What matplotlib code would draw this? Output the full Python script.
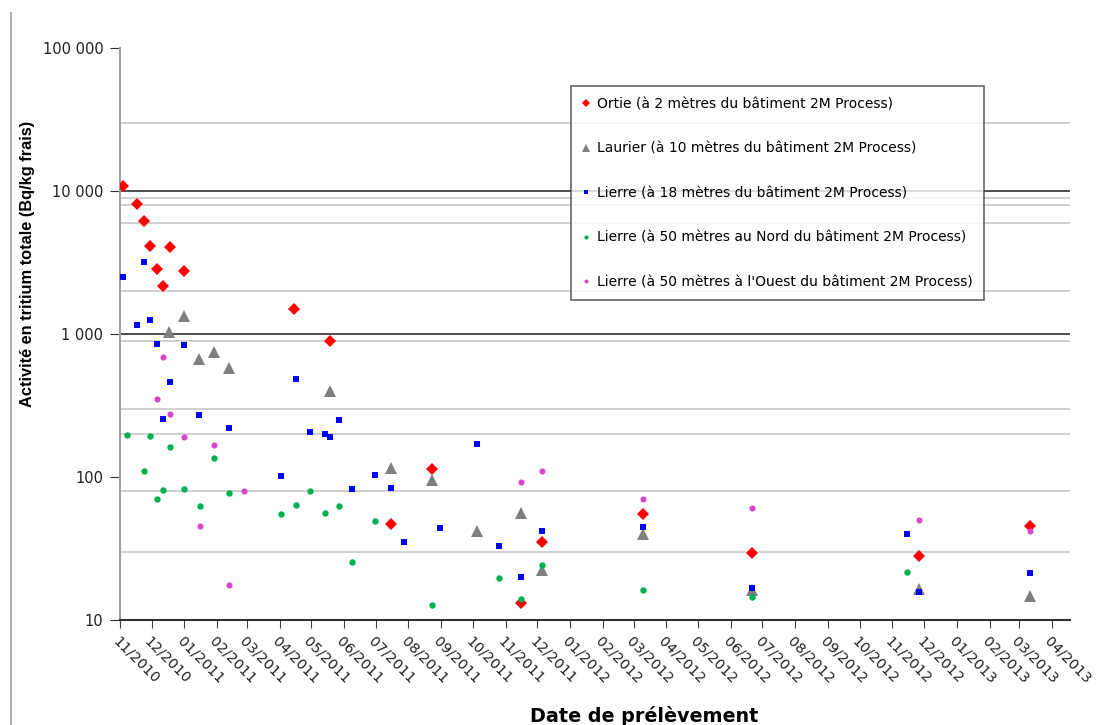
import numpy as np
import matplotlib
matplotlib.use('Agg')
import matplotlib.pyplot as plt
import matplotlib.dates as mdates
from matplotlib.ticker import FixedLocator, NullFormatter
from datetime import datetime


def d(s):
    return datetime.strptime(s, '%Y-%m-%d')


# Ortie (2 m)
ortie_dates = ['2010-11-04', '2010-11-17', '2010-11-24', '2010-11-29', '2010-12-06',
               '2010-12-12', '2010-12-18', '2011-01-01', '2011-04-15', '2011-05-19',
               '2011-07-15', '2011-08-23', '2011-11-15', '2011-12-05', '2012-03-10',
               '2012-06-21', '2012-11-26', '2013-03-11']
ortie_vals = [10800, 8100, 6200, 4100, 2850, 2170, 4050, 2770, 1490, 890,
              47, 113, 13.2, 35, 55, 29.4, 28.2, 45.4]

# Laurier (10 m)
laurier_dates = ['2010-12-17', '2011-01-01', '2011-01-15', '2011-01-29', '2011-02-12',
                 '2011-05-19', '2011-07-15', '2011-08-23', '2011-10-05', '2011-11-15',
                 '2011-12-05', '2012-03-10', '2012-06-21', '2012-11-26', '2013-03-11']
laurier_vals = [1040, 1340, 665, 745, 580, 400, 116, 95, 42, 56, 22.4, 39.7, 16.2, 16.4, 14.6]

# Lierre (18 m)
lierre18_dates = ['2010-11-04', '2010-11-17', '2010-11-24', '2010-11-29', '2010-12-06',
                  '2010-12-12', '2010-12-18', '2011-01-01', '2011-01-15', '2011-02-12',
                  '2011-04-02', '2011-04-17', '2011-04-30', '2011-05-14', '2011-05-19',
                  '2011-05-27', '2011-06-09', '2011-06-30', '2011-07-15', '2011-07-28',
                  '2011-08-31', '2011-10-05', '2011-10-26', '2011-11-15', '2011-12-05',
                  '2012-03-10', '2012-06-21', '2012-11-15', '2012-11-26', '2013-03-11']
lierre18_vals = [2500, 1160, 3170, 1250, 850, 253, 464, 834, 273, 219,
                 102, 486, 206, 200, 191, 249, 82, 104, 84, 35,
                 44, 170, 33, 20.1, 42, 44.7, 16.7, 40, 15.8, 21.2]

# Lierre (50 m Nord)
nord_dates = ['2010-11-08', '2010-11-24', '2010-11-29', '2010-12-06', '2010-12-12',
              '2010-12-18', '2011-01-01', '2011-01-16', '2011-01-29', '2011-02-12',
              '2011-04-02', '2011-04-17', '2011-04-30', '2011-05-14', '2011-05-27',
              '2011-06-09', '2011-06-30', '2011-08-23', '2011-10-26', '2011-11-15',
              '2011-12-05', '2012-03-10', '2012-06-21', '2012-11-15']
nord_vals = [197, 111, 194, 70, 81, 163, 82, 63, 135, 77,
             55, 64, 80, 56, 63, 25.5, 49, 12.7, 19.8, 14,
             24.2, 16.1, 14.4, 21.7]

# Lierre (50 m Ouest)
ouest_dates = ['2010-12-06', '2010-12-12', '2010-12-18', '2011-01-01', '2011-01-16',
               '2011-01-29', '2011-02-12', '2011-02-26', '2011-11-15', '2011-12-05',
               '2012-03-10', '2012-06-21', '2012-11-26', '2013-03-11']
ouest_vals = [351, 687, 276, 190, 45.4, 168, 17.7, 79.4, 92.7, 111, 69.8, 60.7, 50.3, 42.1]

labels = ["Ortie (à 2 mètres du bâtiment 2M Process)",
          "Laurier (à 10 mètres du bâtiment 2M Process)",
          "Lierre (à 18 mètres du bâtiment 2M Process)",
          "Lierre (à 50 mètres au Nord du bâtiment 2M Process)",
          "Lierre (à 50 mètres à l'Ouest du bâtiment 2M Process)"]

y_ticks = [10, 100, 1000, 10000, 100000]
y_ticklabels = ['10', '100', '1 000', '10 000', '100 000']
dark_grid = [1000, 10000]
light_grid = [30, 80, 200, 300, 900, 2000, 6000, 8000, 9000, 30000]

fig = plt.figure(figsize=(11.12, 7.25), dpi=100)
ax = fig.add_axes([120/1112, 1 - 620/725, 950/1112, 572/725])

series = [
    (ortie_dates, ortie_vals, 'D', '#FF0000', 6.6),
    (laurier_dates, laurier_vals, '^', '#7F7F7F', 8),
    (lierre18_dates, lierre18_vals, 's', '#0000FF', 4),
    (nord_dates, nord_vals, 'o', '#00B050', 4.6),
    (ouest_dates, ouest_vals, 'o', '#DD44CC', 4.4),
]
for (dates, vals, mk, col, ms), lab in zip(series, labels):
    ax.plot([d(s) for s in dates], vals, linestyle='none', marker=mk, color=col,
            markersize=ms, markeredgewidth=0, label=lab, zorder=3)

ax.set_yscale('log')
ax.set_ylim(10, 100000)
ax.set_yticks(y_ticks)
ax.set_yticklabels(y_ticklabels)

# light gridlines (minor) and dark gridlines
ax.yaxis.set_minor_locator(FixedLocator(light_grid))
ax.yaxis.set_minor_formatter(NullFormatter())
ax.grid(True, which='minor', axis='y', color='#C8C8C8', linewidth=1.2)
ax.tick_params(axis='y', which='minor', length=0)
for g in dark_grid:
    ax.axhline(g, color='#303030', linewidth=1.2, zorder=1)

ax.set_xlim(d('2010-11-01'), d('2013-04-18'))
ax.xaxis.set_major_locator(mdates.MonthLocator())
ax.xaxis.set_major_formatter(mdates.DateFormatter('%m/%Y'))
for t in ax.get_xticklabels():
    t.set_rotation(-45)
    t.set_ha('left')
    t.set_va('top')
    t.set_rotation_mode('anchor')

ax.tick_params(axis='y', which='major', length=7, color='#303030', labelsize=10.5, pad=5,
               labelcolor='#202020')
ax.tick_params(axis='x', which='major', length=6, color='#404040', labelsize=10.3, pad=4,
               labelcolor='#202020')

for s in ['top', 'right']:
    ax.spines[s].set_visible(False)
ax.spines['left'].set_color('#A0A0A0')
ax.spines['left'].set_linewidth(1.5)
ax.spines['bottom'].set_color('#303030')
ax.spines['bottom'].set_linewidth(1.5)

leg = ax.legend(loc='upper left', bbox_to_anchor=((571 - 120)/950, (620 - 86)/572),
                frameon=True, fancybox=False, edgecolor='#404040', fontsize=10,
                markerscale=0.65, labelspacing=2.2, handlelength=0.6, handletextpad=0.5,
                borderpad=0.8, borderaxespad=0)
leg.get_frame().set_linewidth(1.2)
leg.set_zorder(5)

fig.text(28/1112, 1 - 264/725, 'Activité en tritium totale (Bq/kg frais)', rotation=90,
         ha='center', va='center', fontsize=11.8, fontweight='bold', family='Liberation Sans')
fig.text(644/1112, 1 - 716/725, 'Date de prélèvement', ha='center', va='center',
         fontsize=13.8, fontweight='bold', family='DejaVu Sans')

fig.add_artist(plt.Line2D([11/1112, 11/1112], [0, 1 - 13/725], color='#A0A0A0', linewidth=1.2))

fig.savefig('out.png', dpi=100)
